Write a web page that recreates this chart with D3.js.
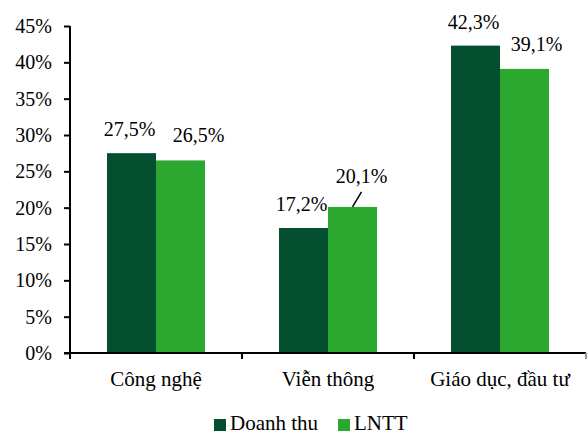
<!DOCTYPE html>
<html><head><meta charset="utf-8">
<script src="https://cdn.jsdelivr.net/npm/d3@7"></script>
<style>
html,body{margin:0;padding:0;background:#fff;}
svg{display:block;}
text{font-family:"Liberation Serif","Times New Roman",serif;fill:#000;}
</style></head>
<body>
<svg id="chart" width="587" height="435"></svg>
<script>
const categories = ["Công nghệ", "Viễn thông", "Giáo dục, đầu tư"];
const seriesNames = ["Doanh thu", "LNTT"];
const doanhThu = [27.5, 17.2, 42.3];
const lntt = [26.5, 20.1, 39.1];
const yTicks = [0, 5, 10, 15, 20, 25, 30, 35, 40, 45];
const colors = ["#034f2f", "#2ca730"];
// label nudges (px) for LNTT labels, as placed in the reference
const lnttLabelDx = [18, 9, 12];
const lnttLeader = [false, true, false];

(function () {
const svg = d3.select("#chart");
const fontSize = 20, catFont = 21;
const serif = '"Liberation Serif","Times New Roman",serif';
const pLeft = 70, pRight = 586, pTop = 26, pBottom = 353;

const x0 = d3.scaleBand().domain(categories).range([pLeft, pRight]).paddingInner(0).paddingOuter(0);
const x1 = d3.scaleBand().domain(seriesNames).range([0, x0.bandwidth()]).paddingInner(0).paddingOuter(0.755);
const y = d3.scaleLinear().domain([0, 45]).range([pBottom, pTop]);

const fmt = v => d3.format(".1f")(v).replace(".", ",") + "%";

// bars
const series = [doanhThu, lntt];
series.forEach((vals, si) => {
  svg.append("g").selectAll("rect").data(vals).join("rect")
    .attr("x", (d, i) => x0(categories[i]) + x1(seriesNames[si]))
    .attr("y", d => y(d))
    .attr("width", x1.bandwidth())
    .attr("height", d => y(0) - y(d))
    .attr("fill", colors[si]);
});

// y axis
const yAxis = d3.axisLeft(y).tickValues(yTicks).tickFormat(d => d + "%").tickSize(6).tickPadding(12);
const gy = svg.append("g").attr("transform", `translate(${pLeft},0)`).call(yAxis);
gy.attr("font-family", serif).attr("font-size", fontSize);
gy.select(".domain").attr("stroke", "#000").attr("stroke-width", 2).attr("d", `M0,${pTop}V${pBottom + 6}`);
gy.selectAll(".tick line").attr("stroke", "#000").attr("stroke-width", 2);
gy.selectAll(".tick text").style("font-size", fontSize + "px").style("font-family", serif).attr("fill", "#000");

// x axis
const gx = svg.append("g").attr("transform", `translate(0,${pBottom})`);
gx.append("line").attr("x1", pLeft - 6).attr("x2", pRight).attr("y1", 0).attr("y2", 0).attr("stroke", "#000").attr("stroke-width", 2);
const seps = categories.map(c => x0(c) + x0.bandwidth());
gx.selectAll("line.sep").data(seps).join("line").attr("class", "sep")
  .attr("x1", d => d).attr("x2", d => d).attr("y1", 0).attr("y2", 6)
  .attr("stroke", (d, i) => i === seps.length - 1 ? "#999" : "#000").attr("stroke-width", 2);
gx.selectAll("text").data(categories).join("text")
  .attr("x", d => x0(d) + x0.bandwidth() / 2)
  .attr("y", 33)
  .attr("text-anchor", "middle")
  .style("font-size", catFont + "px")
  .style("font-family", serif)
  .text(d => d);

// data labels
svg.append("g").selectAll("text").data(doanhThu).join("text")
  .attr("x", (d, i) => x0(categories[i]) + x1(seriesNames[0]) + x1.bandwidth() / 2 - 2)
  .attr("y", d => y(d) - 17)
  .attr("text-anchor", "middle")
  .style("font-size", fontSize + "px")
  .style("font-family", serif)
  .text(d => fmt(d));
svg.append("g").selectAll("text").data(lntt).join("text")
  .attr("x", (d, i) => x0(categories[i]) + x1(seriesNames[1]) + x1.bandwidth() / 2 + lnttLabelDx[i])
  .attr("y", (d, i) => y(d) - (lnttLeader[i] ? 24 : 18))
  .attr("text-anchor", "middle")
  .style("font-size", fontSize + "px")
  .style("font-family", serif)
  .text(d => fmt(d));
svg.append("g").selectAll("line").data(lntt.map((d, i) => ({d, i})).filter(o => lnttLeader[o.i])).join("line")
  .attr("x1", o => x0(categories[o.i]) + x1(seriesNames[1]) + x1.bandwidth() / 2)
  .attr("y1", o => y(o.d))
  .attr("x2", o => x0(categories[o.i]) + x1(seriesNames[1]) + x1.bandwidth() / 2 + 9)
  .attr("y2", o => y(o.d) - 15)
  .attr("stroke", "#000").attr("stroke-width", 1.5);

// legend
const legend = svg.append("g");
const legX = [214, 338];
seriesNames.forEach((s, i) => {
  legend.append("rect").attr("x", legX[i]).attr("y", 419).attr("width", 12).attr("height", 12).attr("fill", colors[i]);
  legend.append("text").attr("x", legX[i] + 16).attr("y", 430).style("font-size", catFont + "px").style("font-family", serif).text(s);
});
})();
</script>
</body></html>
